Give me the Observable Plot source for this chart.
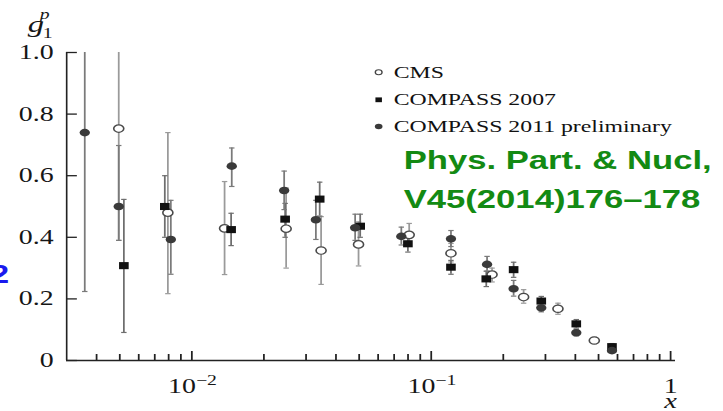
<!DOCTYPE html>
<html>
<head>
<meta charset="utf-8">
<script src="https://cdn.jsdelivr.net/npm/d3@7"></script>
<script src="https://cdn.jsdelivr.net/npm/@observablehq/plot@0.6"></script>
<style>
  html, body { margin: 0; padding: 0; background: white; overflow: hidden; }
  #chart svg { display: block; }
</style>
</head>
<body>
<div id="chart"></div>
<script>
// ---------- data ----------
const seriesNames = ["CMS", "COMPASS 2007", "COMPASS 2011 preliminary"];

const cmsX  = [0.00495, 0.00794, 0.0137, 0.02477, 0.03467, 0.0497, 0.0809, 0.1209, 0.1795, 0.2432, 0.3384, 0.480];
const cmsY  = [0.753, 0.48, 0.429, 0.428, 0.357, 0.377, 0.408, 0.348, 0.279, 0.206, 0.168, 0.065];
const cmsLo = [0.39, 0.217, 0.279, 0.30, 0.247, 0.307, 0.375, 0.32, 0.255, 0.186, 0.15, 0.055];
const cmsHi = [1.11, 0.74, 0.581, 0.56, 0.467, 0.45, 0.445, 0.38, 0.30, 0.23, 0.186, 0.075];

const c07X  = [0.0052, 0.00771, 0.01459, 0.02453, 0.0342, 0.0505, 0.0799, 0.1209, 0.1698, 0.2209, 0.2882, 0.4036, 0.569];
const c07Y  = [0.308, 0.50, 0.425, 0.459, 0.524, 0.436, 0.379, 0.303, 0.265, 0.295, 0.193, 0.119, 0.045];
const c07Lo = [0.091, 0.40, 0.373, 0.40, 0.469, 0.40, 0.352, 0.28, 0.24, 0.27, 0.178, 0.105, 0.035];
const c07Hi = [0.523, 0.60, 0.478, 0.51, 0.579, 0.475, 0.405, 0.325, 0.29, 0.319, 0.208, 0.133, 0.055];

const c11X  = [0.00357, 0.00495, 0.00817, 0.01468, 0.0243, 0.03297, 0.0481, 0.0750, 0.1209, 0.1711, 0.2209, 0.2882, 0.4036, 0.569];
const c11Y  = [0.74, 0.50, 0.393, 0.631, 0.552, 0.457, 0.431, 0.403, 0.395, 0.312, 0.233, 0.171, 0.090, 0.032];
const c11Lo = [0.224, 0.39, 0.28, 0.565, 0.49, 0.393, 0.39, 0.375, 0.37, 0.29, 0.209, 0.158, 0.08, 0.025];
const c11Hi = [1.26, 0.698, 0.52, 0.69, 0.615, 0.52, 0.475, 0.433, 0.422, 0.338, 0.26, 0.185, 0.10, 0.04];

const xDomain = [0.003, 1.05];
const yDomain = [0, 1];
const xTickValues = [0.01, 0.1, 1];
const xTickBase = ["10", "10", "1"];
const xTickExp = ["\u22122", "\u22121", ""];
const xMinorTicks = [0.004,0.005,0.006,0.007,0.008,0.009, 0.02,0.03,0.04,0.05,0.06,0.07,0.08,0.09, 0.2,0.3,0.4,0.5,0.6,0.7,0.8,0.9];
const yTickValues = [0, 0.2, 0.4, 0.6, 0.8, 1.0];
const yTickLabels = ["0", "0.2", "0.4", "0.6", "0.8", "1.0"];

const yLabel = {base: "g", sup: "p", sub: "1"};
const xLabel = "x";
const citation = ["Phys. Part. & Nucl,", "V45(2014)176\u2013178"];
const cutNote = "2";

// ---------- layout ----------
const OUT_W = 723, OUT_H = 411;
const W = 532, H = 411;           // drawn narrower, then stretched horizontally like the reference
const S = OUT_W / W;
const ML = 66 / S, MR = 48 / S, MT = 52, MB = 51;
const at = (xo, yo) => ({frameAnchor: "top-left", dx: xo / S - ML, dy: yo - MT});
const serif = "Liberation Serif, Times New Roman, serif";
const sans = "Liberation Sans, Arial, sans-serif";
const ink = "#161616";

const rows = (X, Y, L, Hh) => X.map((x, i) => ({x, y: Y[i], lo: L[i], hi: Hh[i]}));
const cms = rows(cmsX, cmsY, cmsLo, cmsHi);
const c07 = rows(c07X, c07Y, c07Lo, c07Hi);
const c11 = rows(c11X, c11Y, c11Lo, c11Hi);

const cap = {draw(ctx) { ctx.moveTo(-2, 0); ctx.lineTo(2, 0); }};
const errMarks = (data, color) => [
  Plot.ruleX(data, {x: "x", y1: "lo", y2: "hi", stroke: color, strokeWidth: 1.3, clip: true}),
  Plot.dot(data, {x: "x", y: "lo", symbol: cap, stroke: color, fill: "none", strokeWidth: 1.2, clip: true}),
  Plot.dot(data, {x: "x", y: "hi", symbol: cap, stroke: color, fill: "none", strokeWidth: 1.2, clip: true})
];

const legendY = [71.7, 99.3, 126];
const legendMarkStyle = [
  {symbol: "circle", r: 2.5, stroke: "#444", fill: "white", strokeWidth: 1},
  {symbol: "square", r: 2.7, fill: "#111", stroke: "none"},
  {symbol: "circle", r: 2.8, fill: "#3a3a3a", stroke: "none"}
];

const chart = Plot.plot({
  width: W, height: H,
  marginLeft: ML, marginRight: MR, marginTop: MT, marginBottom: MB,
  style: {background: "white", fontFamily: serif, overflow: "visible"},
  x: {type: "log", domain: xDomain, label: null},
  y: {domain: yDomain, label: null},
  marks: [
    // error bars
    ...errMarks(cms, "#9a9a9a"),
    ...errMarks(c07, "#6e6e6e"),
    ...errMarks(c11, "#7a7a7a"),
    // points
    Plot.dot(cms, {x: "x", y: "y", r: 3.7, stroke: "#4a4a4a", fill: "white", strokeWidth: 1.2}),
    Plot.dot(c07, {x: "x", y: "y", symbol: "square", r: 4, fill: "#111", stroke: "none"}),
    Plot.dot(c11, {x: "x", y: "y", r: 3.8, fill: "#3a3a3a", stroke: "none"}),
    // axes
    Plot.ruleX([xDomain[0]], {y1: yDomain[0], y2: yDomain[1], stroke: "#222", strokeWidth: 1.2}),
    Plot.ruleY([yDomain[0]], {stroke: "#222", strokeWidth: 1.4}),
    Plot.axisY(yTickValues, {anchor: "left", tickSize: -8, tickPadding: 17.6, tickFormat: (d, i) => yTickLabels[i],
      stroke: "#222", strokeWidth: 1.3, fontSize: 20.5, fontFamily: serif, fill: ink, label: null}),
    Plot.axisX(xTickValues, {anchor: "bottom", tickSize: -9, tickFormat: () => "", stroke: "#222", strokeWidth: 1.3, label: null}),
    Plot.axisX(xMinorTicks, {anchor: "bottom", tickSize: -6, tickFormat: () => "", stroke: "#222", strokeWidth: 1.3, label: null}),
    // x tick labels (10^n)
    Plot.text(xTickValues, {filter: (d, i) => xTickExp[i] !== "", x: d => d, text: (d, i) => xTickBase[i],
      frameAnchor: "bottom", dy: 32, dx: 3, textAnchor: "end", lineAnchor: "bottom", fontSize: 20.5, fontFamily: serif, fill: ink}),
    Plot.text(xTickValues, {filter: (d, i) => xTickExp[i] !== "", x: d => d, text: (d, i) => xTickExp[i],
      frameAnchor: "bottom", dy: 24.5, dx: 3, textAnchor: "start", lineAnchor: "bottom", fontSize: 14.5, fontFamily: serif, fill: ink}),
    Plot.text(xTickValues, {filter: (d, i) => xTickExp[i] === "", x: d => d, text: (d, i) => xTickBase[i],
      frameAnchor: "bottom", dy: 32, textAnchor: "middle", lineAnchor: "bottom", fontSize: 20.5, fontFamily: serif, fill: ink}),
    // axis labels
    Plot.text([xLabel], {...at(670, 407.5), text: d => d, textAnchor: "middle", lineAnchor: "bottom", fontSize: 21, fontStyle: "italic", fontFamily: serif, fill: ink}),
    Plot.text([yLabel.base], {...at(27, 31), text: d => d, textAnchor: "start", lineAnchor: "bottom", fontSize: 24, fontStyle: "italic", fontFamily: serif, fill: ink}),
    Plot.text([yLabel.sup], {...at(39, 18), text: d => d, textAnchor: "start", lineAnchor: "bottom", fontSize: 14.5, fontStyle: "italic", fontFamily: serif, fill: ink}),
    Plot.text([yLabel.sub], {...at(42, 37), text: d => d, textAnchor: "start", lineAnchor: "bottom", fontSize: 14.5, fontFamily: serif, fill: ink}),
    // legend
    ...seriesNames.map((name, i) => Plot.dot([name], {...at(378, legendY[i]), ...legendMarkStyle[i]})),
    ...seriesNames.map((name, i) => Plot.text([name], {...at(393, legendY[i]), text: d => d, textAnchor: "start", lineAnchor: "middle",
      fontSize: 17.5, fontFamily: serif, fill: "#111"})),
    // citation
    ...citation.map((line, i) => Plot.text([line], {...at(403, i === 0 ? 168 : 207), text: d => d, textAnchor: "start", lineAnchor: "bottom",
      fontSize: 25.5, fontWeight: "bold", fontFamily: sans, fill: "#138a13"})),
    Plot.text([cutNote], {...at(8.5, 282), text: d => d, textAnchor: "end", lineAnchor: "bottom", fontSize: 25, fontWeight: "bold", fontFamily: sans, fill: "#1a1aee"})
  ]
});

chart.setAttribute("preserveAspectRatio", "none");
chart.setAttribute("width", OUT_W);
chart.setAttribute("height", OUT_H);
chart.style.width = OUT_W + "px";
chart.style.height = OUT_H + "px";
chart.style.maxWidth = "none";
chart.querySelectorAll("text").forEach(t => {
  if (t.textContent === cutNote && t.getAttribute("fill") === "#1a1aee") t.style.textDecoration = "underline";
});
document.getElementById("chart").appendChild(chart);
</script>
</body>
</html>
